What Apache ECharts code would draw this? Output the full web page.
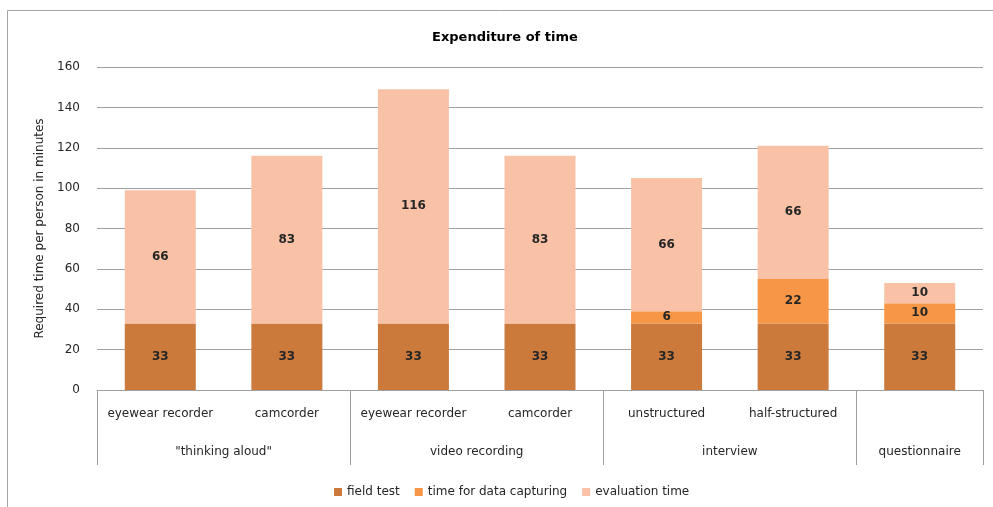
<!DOCTYPE html>
<html>
<head>
<meta charset="utf-8">
<script src="https://cdn.jsdelivr.net/npm/echarts@6/dist/echarts.min.js"></script>
<style>html,body{margin:0;padding:0;background:#fff}#c{width:993px;height:507px}</style>
</head>
<body>
<div id="c"></div>
<script>
const categories = ['eyewear recorder', 'camcorder', 'eyewear recorder', 'camcorder', 'unstructured', 'half-structured', ''];
const groups = ['"thinking aloud"', 'video recording', 'interview', 'questionnaire'];
const groupSpans = [2, 2, 2, 1];
const fieldTest = [33, 33, 33, 33, 33, 33, 33];
const dataCapturing = [null, null, null, null, 6, 22, 10];
const evaluationTime = [66, 83, 116, 83, 66, 66, 10];
const yTicks = { min: 0, max: 160, interval: 20 };

// build second-level axis (half-slot points)
const groupData = [];
const groupTicks = [0];
let pos = 0;
const nSlots = categories.length * 2;
for (let i = 0; i <= nSlots; i++) groupData.push('');
groups.forEach((g, i) => {
  groupData[pos + groupSpans[i]] = g;
  pos += groupSpans[i] * 2;
  groupTicks.push(pos);
});
const groupLabelIdx = new Set();
pos = 0;
groupSpans.forEach(s => { groupLabelIdx.add(pos + s); pos += s * 2; });

const font = 'DejaVu Sans';
const txt = '#262626';
const lbl = () => ({
  show: true, position: 'inside', color: txt, fontFamily: font, fontSize: 12, fontWeight: 'bold',
  formatter: p => (p.value == null ? '' : p.value)
});

const chart = echarts.init(document.getElementById('c'));
chart.setOption({
  animation: false,
  textStyle: { fontFamily: font },
  title: {
    text: 'Expenditure of time', left: 427, top: 26,
    textStyle: { fontSize: 13, fontWeight: 'bold', color: '#000', fontFamily: font }
  },
  graphic: [{
    type: 'rect', shape: { x: 7.5, y: 10.5, width: 1100, height: 600 },
    style: { fill: 'none', stroke: '#a6a6a6', lineWidth: 1 }, silent: true, z: -10
  }],
  grid: { left: 97, right: 10, top: 67, bottom: 117, containLabel: false },
  legend: {
    top: 481, left: 329, itemWidth: 8, itemHeight: 8, itemGap: 15,
    icon: 'rect',
    textStyle: { fontSize: 12, color: txt, fontFamily: font },
    data: ['field test', 'time for data capturing', 'evaluation time']
  },
  xAxis: [{
    type: 'category', data: categories, position: 'bottom',
    axisLine: { show: true, lineStyle: { color: '#a0a0a0', width: 1 } },
    axisTick: { show: false },
    axisLabel: { margin: 18, fontSize: 12, color: txt, fontFamily: font, interval: 0 }
  }, {
    type: 'category', data: groupData, position: 'bottom', boundaryGap: false,
    axisLine: { show: false },
    axisTick: { show: true, length: 75, interval: (i) => groupTicks.includes(i), lineStyle: { color: '#a0a0a0' } },
    axisLabel: { margin: 56, fontSize: 12, color: txt, fontFamily: font, interval: (i) => groupLabelIdx.has(i) },
    splitLine: { show: false }
  }],
  yAxis: {
    type: 'value', min: yTicks.min, max: yTicks.max, interval: yTicks.interval,
    name: 'Required time per person in minutes', nameLocation: 'middle', nameGap: 51,
    nameTextStyle: { fontSize: 12, color: txt, fontFamily: font },
    axisLine: { show: false }, axisTick: { show: false },
    axisLabel: { margin: 17, fontSize: 12, color: txt, fontFamily: font },
    splitLine: { lineStyle: { color: '#a0a0a0', width: 1 } }
  },
  series: [
    { name: 'field test', type: 'bar', stack: 't', data: fieldTest, barWidth: 71, itemStyle: { color: '#CB7A3C' }, label: lbl() },
    { name: 'time for data capturing', type: 'bar', stack: 't', data: dataCapturing, barWidth: 71, itemStyle: { color: '#F79646' }, label: lbl() },
    { name: 'evaluation time', type: 'bar', stack: 't', data: evaluationTime, barWidth: 71, itemStyle: { color: '#F9C2A6' }, label: lbl() }
  ]
});
</script>
</body>
</html>
